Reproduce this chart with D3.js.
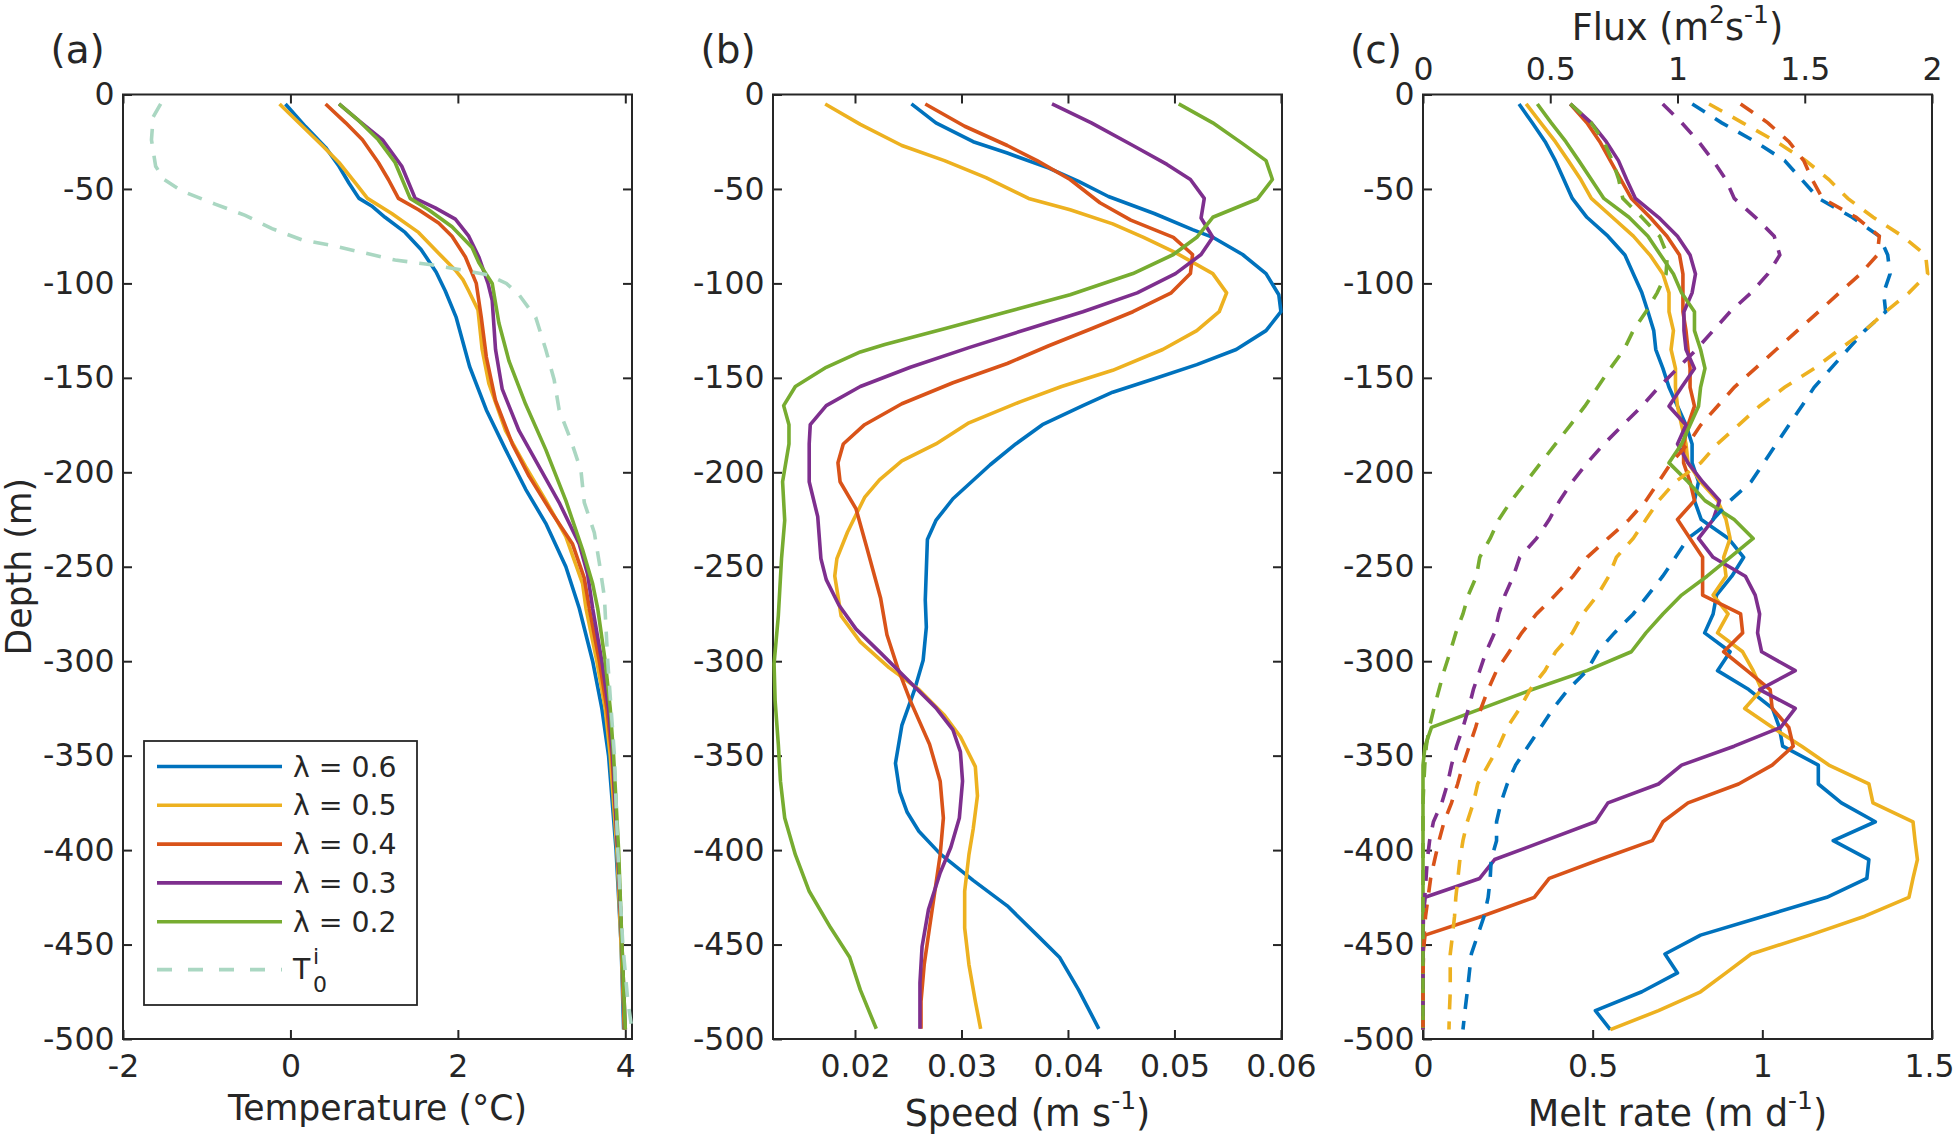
<!DOCTYPE html>
<html>
<head>
<meta charset="utf-8">
<script src="https://cdnjs.cloudflare.com/ajax/libs/d3/7.8.5/d3.min.js"></script>
<style>
  body { margin: 0; background: #fff; }
  text { font-family: "DejaVu Sans", sans-serif; fill: #262626; }
</style>
</head>
<body>
<div id="chart"></div>
<script>
// series labels and colours (MATLAB default order)
const lambdas = ["0.6", "0.5", "0.4", "0.3", "0.2"];
const colors = ["#0072BD", "#EDB120", "#D95319", "#7E2F8E", "#77AC30"];
const initColor = "#aad7c2";

// ticks
const depthTicks = [0, -50, -100, -150, -200, -250, -300, -350, -400, -450, -500];
const tempTicks = [-2, 0, 2, 4];
const speedTicks = [0.02, 0.03, 0.04, 0.05, 0.06];
const meltTicks = [0, 0.5, 1, 1.5];
const fluxTicks = [0, 0.5, 1, 1.5, 2];

// (a) temperature profiles: [depth, T]
const tempBlue = [[-5,-0.06],[-17,0.18],[-28,0.42],[-38,0.58],[-47,0.70],[-55,0.82],[-59,0.97],[-65,1.13],[-73,1.37],[-82,1.56],[-94,1.74],[-104,1.85],[-118,1.98],[-144,2.14],[-167,2.34],[-188,2.57],[-209,2.81],[-227,3.05],[-250,3.29],[-272,3.45],[-300,3.61],[-325,3.72],[-350,3.80],[-400,3.89],[-450,3.95],[-495,3.98]];
const tempYellow = [[-5,-0.13],[-15,0.10],[-27,0.38],[-36,0.58],[-47,0.78],[-55,0.92],[-63,1.21],[-73,1.53],[-84,1.77],[-93,1.97],[-98,2.06],[-104,2.13],[-114,2.24],[-135,2.29],[-153,2.37],[-178,2.57],[-197,2.81],[-215,3.05],[-234,3.29],[-259,3.49],[-272,3.53],[-300,3.66],[-325,3.76],[-350,3.82],[-400,3.90],[-450,3.95],[-495,3.99]];
const tempRed = [[-5,0.42],[-15,0.66],[-24,0.86],[-36,1.05],[-45,1.17],[-55,1.29],[-61,1.53],[-68,1.77],[-75,1.93],[-86,2.09],[-100,2.22],[-118,2.28],[-139,2.34],[-162,2.45],[-185,2.65],[-202,2.85],[-222,3.13],[-238,3.37],[-256,3.51],[-272,3.57],[-300,3.69],[-325,3.78],[-350,3.84],[-400,3.91],[-450,3.96],[-495,3.99]];
const tempPurple = [[-5,0.58],[-14,0.82],[-24,1.10],[-38,1.33],[-55,1.49],[-60,1.73],[-66,1.97],[-75,2.13],[-86,2.25],[-100,2.36],[-109,2.41],[-135,2.45],[-156,2.53],[-178,2.73],[-197,2.97],[-216,3.21],[-238,3.45],[-254,3.55],[-272,3.61],[-300,3.72],[-325,3.80],[-350,3.85],[-400,3.91],[-450,3.96],[-495,4.00]];
const tempGreen = [[-5,0.58],[-14,0.82],[-24,1.05],[-36,1.25],[-55,1.43],[-61,1.65],[-70,1.93],[-81,2.17],[-89,2.25],[-100,2.41],[-121,2.49],[-141,2.61],[-164,2.81],[-188,3.05],[-215,3.29],[-241,3.49],[-259,3.61],[-272,3.67],[-300,3.76],[-325,3.82],[-350,3.86],[-400,3.92],[-450,3.96],[-495,4.00]];
const tempInit = [[-5,-1.55],[-12,-1.64],[-24,-1.66],[-38,-1.61],[-45,-1.51],[-51,-1.30],[-58,-0.90],[-64,-0.54],[-71,-0.22],[-77,0.14],[-80,0.50],[-84,0.90],[-87.6,1.25],[-90,1.66],[-93,2.06],[-95.6,2.37],[-100,2.58],[-106,2.73],[-118,2.93],[-135,3.05],[-151,3.15],[-167,3.21],[-183,3.35],[-199,3.47],[-216,3.51],[-232,3.63],[-248,3.69],[-266,3.75],[-300,3.79],[-350,3.87],[-400,3.91],[-450,3.97],[-480,4.03],[-495,4.08]];

// (b) speed profiles: [depth, speed]
const speedBlue = [[-5,0.0253],[-15,0.0276],[-25,0.0311],[-31,0.0343],[-39,0.0382],[-46,0.0410],[-54,0.0438],[-63,0.0481],[-71.5,0.0517],[-75.6,0.0536],[-84.7,0.0564],[-94.8,0.0586],[-106,0.0598],[-115,0.0600],[-125,0.0586],[-135,0.0558],[-143,0.0521],[-150.5,0.0481],[-157.6,0.0442],[-164.7,0.0414],[-174.8,0.0376],[-185,0.0351],[-196,0.0327],[-214,0.0292],[-225.5,0.0276],[-235.6,0.0268],[-267.6,0.0266],[-282,0.0267],[-299.5,0.0264],[-315,0.0256],[-334,0.0244],[-354,0.0238],[-369,0.0242],[-380,0.0249],[-390,0.0260],[-402,0.0280],[-416,0.0311],[-429.5,0.0343],[-445,0.0371],[-456.7,0.0392],[-474,0.0410],[-494.6,0.0429]];
const speedYellow = [[-5,0.0172],[-15.8,0.0205],[-27,0.0244],[-35,0.0284],[-44,0.0323],[-55,0.0363],[-61,0.0402],[-68.5,0.0442],[-75.6,0.0471],[-83.7,0.0501],[-94.8,0.0536],[-105,0.0549],[-115,0.0542],[-125,0.0521],[-135,0.0489],[-146,0.0442],[-154.6,0.0394],[-162.7,0.0355],[-173.8,0.0307],[-185,0.0276],[-194,0.0244],[-204,0.0223],[-213.3,0.0209],[-231.6,0.0193],[-245.7,0.0183],[-254.9,0.0181],[-276,0.0187],[-289.8,0.0205],[-303.4,0.0232],[-315,0.0260],[-328.6,0.0284],[-340,0.0299],[-355.8,0.0313],[-371.3,0.0315],[-388.8,0.0311],[-402.4,0.0307],[-421.8,0.0303],[-441.2,0.0303],[-460.6,0.0307],[-480,0.0313],[-494.6,0.0318]];
const speedRed = [[-5,0.0266],[-16.8,0.0303],[-27,0.0343],[-35,0.0371],[-45,0.0402],[-57.3,0.0430],[-66.5,0.0459],[-71.5,0.0481],[-75.6,0.0499],[-84.7,0.0517],[-94.8,0.0515],[-105,0.0497],[-115,0.0461],[-124,0.0422],[-133,0.0382],[-142.4,0.0343],[-152.6,0.0292],[-163.7,0.0244],[-174.8,0.0209],[-185,0.0189],[-195,0.0184],[-205,0.0186],[-219.4,0.0201],[-239.7,0.0211],[-266.5,0.0224],[-286,0.0230],[-303.4,0.0240],[-321,0.0252],[-344,0.0270],[-363.5,0.0280],[-383,0.0283],[-402.4,0.0280],[-418,0.0276],[-441,0.0270],[-460.6,0.0265],[-480,0.0262],[-494.6,0.0262]];
const speedPurple = [[-5,0.0385],[-15,0.0422],[-27,0.0461],[-37,0.0493],[-45,0.0515],[-55,0.0528],[-65.4,0.0525],[-75.6,0.0536],[-84.7,0.0525],[-94.8,0.0501],[-105,0.0465],[-115,0.0414],[-124,0.0363],[-134,0.0307],[-144.4,0.0252],[-154.6,0.0205],[-164.7,0.0173],[-174.8,0.0158],[-185,0.0157],[-205,0.0157],[-223.5,0.0165],[-245.7,0.0168],[-256.8,0.0173],[-270.4,0.0185],[-283,0.0201],[-295.6,0.0224],[-309,0.0248],[-324.7,0.0276],[-336.4,0.0292],[-348,0.0299],[-363.5,0.0301],[-383,0.0298],[-398.5,0.0290],[-412,0.0280],[-431.5,0.0269],[-451,0.0263],[-470.3,0.0261],[-494.6,0.0261]];
const speedGreen = [[-5,0.0504],[-15,0.0536],[-26,0.0564],[-35,0.0586],[-45,0.0592],[-55.3,0.0578],[-65,0.0536],[-75.6,0.0521],[-84.7,0.0499],[-94.8,0.0461],[-106,0.0402],[-115,0.0343],[-124,0.0284],[-132.3,0.0228],[-136.3,0.0205],[-144.4,0.0173],[-154.6,0.0144],[-164.7,0.0133],[-174.8,0.0138],[-185,0.0138],[-205,0.0132],[-225.5,0.0134],[-245.7,0.0131],[-276,0.0128],[-301.4,0.0124],[-321,0.0125],[-344,0.0128],[-363.5,0.0130],[-383,0.0134],[-402.4,0.0144],[-421.8,0.0157],[-441,0.0177],[-456.7,0.0195],[-474,0.0205],[-494.6,0.0220]];

// (c) melt rate and flux on a 10 m grid
const meltDepth = [-5,-15,-25,-35,-45,-55,-65,-75,-85,-95,-105,-115,-125,-135,-145,-155,-165,-175,-185,-195,-205,-215,-225,-235,-245,-255,-265,-275,-285,-295,-305,-315,-325,-335,-345,-355,-365,-375,-385,-395,-405,-415,-425,-435,-445,-455,-465,-475,-485,-495];
const meltBlue = [0.283,0.322,0.36,0.39,0.415,0.44,0.483,0.545,0.595,0.62,
  0.645,0.663,0.68,0.686,0.707,0.725,0.75,0.775,0.793,0.793,
  0.812,0.80,0.82,0.90,0.945,0.91,0.865,0.855,0.83,0.905,
  0.868,0.96,1.03,1.05,1.06,1.165,1.165,1.233,1.333,1.209,
  1.314,1.308,1.19,1.004,0.818,0.713,0.75,0.645,0.508,0.552];
const meltYellow = [0.304,0.347,0.39,0.428,0.465,0.496,0.558,0.62,0.669,0.707,
  0.725,0.725,0.738,0.731,0.744,0.744,0.75,0.762,0.775,0.781,
  0.818,0.868,0.893,0.905,0.886,0.893,0.855,0.899,0.868,0.942,
  0.973,0.998,0.948,1.029,1.116,1.196,1.314,1.326,1.444,1.45,
  1.457,1.444,1.432,1.302,1.14,0.967,0.893,0.818,0.694,0.552];
const meltRed = [0.434,0.483,0.521,0.552,0.583,0.614,0.669,0.719,0.756,0.766,
  0.766,0.766,0.775,0.781,0.787,0.787,0.80,0.781,0.768,0.768,
  0.787,0.80,0.75,0.787,0.824,0.824,0.824,0.936,0.942,0.886,
  0.955,1.023,1.029,1.078,1.091,1.029,0.93,0.781,0.707,0.676,
  0.521,0.372,0.328,0.174,0.006,0,0,0,0,0];
const meltPurple = [0.434,0.496,0.54,0.576,0.60,0.626,0.694,0.75,0.787,0.803,
  0.793,0.769,0.769,0.775,0.80,0.762,0.725,0.775,0.75,0.781,
  0.824,0.874,0.855,0.812,0.855,0.95,0.979,0.992,0.986,0.998,
  1.097,0.992,1.097,1.054,0.917,0.762,0.694,0.545,0.508,0.36,
  0.211,0.167,0.006,0,0,0,0,0,0,0];
const meltGreen = [0.337,0.378,0.421,0.459,0.496,0.533,0.607,0.663,0.70,0.738,
  0.762,0.80,0.80,0.818,0.831,0.818,0.812,0.787,0.762,0.725,
  0.781,0.831,0.917,0.973,0.905,0.837,0.762,0.707,0.657,0.614,
  0.483,0.322,0.174,0.025,0.006,0,0,0,0,0,
  0,0,0,0,0,0,0,0,0,0];
const fluxBlue = [1.058,1.174,1.306,1.421,1.488,1.554,1.686,1.793,1.826,1.835,
  1.81,1.818,1.736,1.669,1.603,1.537,1.488,1.438,1.388,1.339,
  1.289,1.207,1.14,1.041,0.992,0.942,0.884,0.826,0.752,0.686,
  0.645,0.57,0.512,0.463,0.413,0.364,0.331,0.306,0.289,0.289,
  0.268,0.264,0.256,0.24,0.215,0.19,0.182,0.174,0.165,0.157];
const fluxYellow = [1.124,1.256,1.388,1.504,1.595,1.669,1.769,1.884,1.975,1.983,
  1.909,1.818,1.736,1.636,1.537,1.421,1.322,1.24,1.157,1.091,
  0.992,0.926,0.876,0.826,0.76,0.73,0.686,0.628,0.587,0.521,
  0.479,0.421,0.38,0.331,0.298,0.256,0.215,0.198,0.174,0.157,
  0.145,0.137,0.129,0.124,0.116,0.107,0.107,0.107,0.104,0.102];
const fluxRed = [1.248,1.355,1.438,1.496,1.529,1.57,1.702,1.793,1.785,1.719,
  1.636,1.554,1.471,1.388,1.306,1.223,1.157,1.091,1.041,0.975,
  0.926,0.876,0.81,0.727,0.645,0.59,0.52,0.446,0.388,0.339,
  0.289,0.256,0.228,0.207,0.182,0.157,0.136,0.112,0.083,0.063,
  0.046,0.03,0.02,0.01,0.005,0.002,0,0,0,0];
const fluxPurple = [0.942,1.017,1.083,1.14,1.19,1.223,1.306,1.38,1.402,1.355,
  1.289,1.207,1.14,1.074,1.0,0.926,0.86,0.785,0.711,0.645,
  0.587,0.537,0.496,0.446,0.38,0.355,0.322,0.298,0.281,0.248,
  0.223,0.198,0.179,0.157,0.132,0.112,0.096,0.074,0.041,0.026,
  0.017,0.012,0.007,0.002,0,0,0,0,0,0];
const fluxGreen = [0.579,0.661,0.711,0.744,0.769,0.785,0.86,0.93,0.96,0.955,
  0.92,0.876,0.826,0.79,0.736,0.686,0.636,0.579,0.521,0.463,
  0.405,0.347,0.298,0.264,0.223,0.21,0.178,0.157,0.129,0.107,
  0.083,0.063,0.043,0.025,0.013,0.007,0.003,0,0,0,
  0,0,0,0,0,0,0,0,0,0];

const tempSeries = [tempBlue, tempYellow, tempRed, tempPurple, tempGreen];
const speedSeries = [speedBlue, speedYellow, speedRed, speedPurple, speedGreen];
const meltSeries = [meltBlue, meltYellow, meltRed, meltPurple, meltGreen];
const fluxSeries = [fluxBlue, fluxYellow, fluxRed, fluxPurple, fluxGreen];

// layout
const W = 1956, H = 1136;
const plotTop = 94.5, plotBottom = 1039, pw = 509;
const panelLeft = [123, 773, 1423];
const tickFont = 31.5, labelFont = 34.65, legendFont = 28.35;
const axisColor = "#262626";
const lw = 3.6;

const svg = d3.select("#chart").append("svg")
    .attr("width", W)
    .attr("height", H)
    .style("background", "#fff");

const y = d3.scaleLinear().domain([-500, 0]).range([plotBottom, plotTop]);

function styleAxis(sel) {
    sel.attr("font-size", tickFont)
       .attr("font-family", "DejaVu Sans")
       .attr("color", axisColor);
    sel.select(".domain").remove();
    sel.selectAll(".tick line").attr("stroke-width", 2);
    sel.selectAll(".tick text").attr("fill", axisColor);
}

function drawPanel(x0, x, xTicks, mirror) {
    const g = svg.append("g");
    // left depth axis
    g.append("g")
        .attr("transform", `translate(${x0},0)`)
        .call(d3.axisLeft(y).tickValues(depthTicks).tickSizeInner(-9).tickSizeOuter(0).tickPadding(8.5).tickFormat(d => String(d)))
        .call(styleAxis);
    if (mirror) {
        g.append("g")
            .attr("transform", `translate(${x0 + pw},0)`)
            .call(d3.axisRight(y).tickValues(depthTicks.slice(1, -1)).tickSizeInner(-9).tickSizeOuter(0).tickFormat(""))
            .call(styleAxis);
        g.append("g")
            .attr("transform", `translate(0,${plotTop})`)
            .call(d3.axisTop(x).tickValues(xTicks).tickSizeInner(-9).tickSizeOuter(0).tickFormat(""))
            .call(styleAxis);
    }
    const xb = g.append("g")
        .attr("transform", `translate(0,${plotBottom})`)
        .call(d3.axisBottom(x).tickValues(xTicks).tickSizeInner(-9).tickSizeOuter(0).tickPadding(15.5).tickFormat(d => String(d)))
        .call(styleAxis);
    g.append("rect")
        .attr("x", x0).attr("y", plotTop)
        .attr("width", pw).attr("height", plotBottom - plotTop)
        .attr("fill", "none")
        .attr("stroke", axisColor)
        .attr("stroke-width", 2);
    return { g, xb };
}

const pairLine = x => d3.line().x(d => x(d[1])).y(d => y(d[0]));

// ---- (a) temperature
const xTemp = d3.scaleLinear().domain([-2, 4.08]).range([panelLeft[0], panelLeft[0] + pw]);
const gA = drawPanel(panelLeft[0], xTemp, tempTicks, true).g;
tempSeries.forEach((s, i) => {
    gA.append("path").datum(s)
        .attr("d", pairLine(xTemp))
        .attr("fill", "none").attr("stroke", colors[i])
        .attr("stroke-width", lw).attr("stroke-linejoin", "round");
});
gA.append("path").datum(tempInit)
    .attr("d", pairLine(xTemp))
    .attr("fill", "none").attr("stroke", initColor)
    .attr("stroke-width", lw).attr("stroke-dasharray", "15,12");

// ---- (b) speed
const xSpeed = d3.scaleLinear().domain([0.0123, 0.0601]).range([panelLeft[1], panelLeft[1] + pw]);
const gB = drawPanel(panelLeft[1], xSpeed, speedTicks, true).g;
speedSeries.forEach((s, i) => {
    gB.append("path").datum(s)
        .attr("d", pairLine(xSpeed))
        .attr("fill", "none").attr("stroke", colors[i])
        .attr("stroke-width", lw).attr("stroke-linejoin", "round");
});

// ---- (c) melt rate (bottom) and flux (top)
const xMelt = d3.scaleLinear().domain([0, 1.5]).range([panelLeft[2], panelLeft[2] + pw]);
const xFlux = d3.scaleLinear().domain([0, 2]).range([panelLeft[2], panelLeft[2] + pw]);
const pc = drawPanel(panelLeft[2], xMelt, meltTicks, false);
const gC = pc.g;
// keep the last bottom label inside the picture edge
pc.xb.selectAll(".tick text").filter(d => d === 1.5).attr("dx", -3);
gC.append("g")
    .attr("transform", `translate(0,${plotTop})`)
    .call(d3.axisTop(xFlux).tickValues(fluxTicks).tickSizeInner(-9).tickSizeOuter(0).tickPadding(15).tickFormat(d => String(d)))
    .call(styleAxis);

const gridLine = x => d3.line().x(d => x(d)).y((d, i) => y(meltDepth[i]));
meltSeries.forEach((s, i) => {
    gC.append("path").datum(s)
        .attr("d", gridLine(xMelt))
        .attr("fill", "none").attr("stroke", colors[i])
        .attr("stroke-width", lw).attr("stroke-linejoin", "round");
});
fluxSeries.forEach((s, i) => {
    gC.append("path").datum(s)
        .attr("d", gridLine(xFlux))
        .attr("fill", "none").attr("stroke", colors[i])
        .attr("stroke-width", lw).attr("stroke-dasharray", "15,12");
});

// ---- labels
const panelNames = ["(a)", "(b)", "(c)"];
const panelX = [50.5, 700.5, 1350];
panelNames.forEach((t, i) => {
    svg.append("text").attr("x", panelX[i]).attr("y", 63)
        .attr("font-size", 39).text(t);
});

svg.append("text")
    .attr("transform", `translate(31,${(plotTop + plotBottom) / 2}) rotate(-90)`)
    .attr("text-anchor", "middle").attr("font-size", labelFont)
    .text("Depth (m)");

svg.append("text")
    .attr("x", panelLeft[0] + pw / 2).attr("y", 1120)
    .attr("text-anchor", "middle").attr("font-size", labelFont)
    .text("Temperature (°C)");

// label made of plain and superscript pieces; each piece sets its own baseline shift
function supLabel(x, yb, parts) {
    const t = svg.append("text").attr("x", x).attr("y", yb)
        .attr("text-anchor", "middle").attr("font-size", 36.5);
    let raised = false;
    parts.forEach(p => {
        const sp = t.append("tspan");
        if (p.sup) {
            sp.attr("dy", raised ? 0 : -17).attr("font-size", 25).text(p.sup);
            raised = true;
        } else {
            sp.attr("dy", raised ? 17 : 0).text(p.text);
            raised = false;
        }
    });
}
supLabel(panelLeft[1] + pw / 2, 1126, [{ text: "Speed (m s" }, { sup: "-1" }, { text: ")" }]);
supLabel(panelLeft[2] + pw / 2, 1126, [{ text: "Melt rate (m d" }, { sup: "-1" }, { text: ")" }]);
supLabel(panelLeft[2] + pw / 2, 40, [{ text: "Flux (m" }, { sup: "2" }, { text: "s" }, { sup: "-1" }, { text: ")" }]);

// ---- legend
const lg = svg.append("g");
lg.append("rect")
    .attr("x", 144).attr("y", 741).attr("width", 273).attr("height", 264)
    .attr("fill", "#fff").attr("stroke", axisColor).attr("stroke-width", 1.8);
lambdas.forEach((l, i) => {
    const ry = 766.5 + i * 38.8;
    lg.append("line").attr("x1", 157).attr("x2", 282).attr("y1", ry).attr("y2", ry)
        .attr("stroke", colors[i]).attr("stroke-width", lw);
    lg.append("text").attr("x", 293).attr("y", ry + 10)
        .attr("font-size", legendFont).text(`λ = ${l}`);
});
const ty = 969.6;
lg.append("line").attr("x1", 157).attr("x2", 282).attr("y1", ty).attr("y2", ty)
    .attr("stroke", initColor).attr("stroke-width", lw).attr("stroke-dasharray", "15,16");
lg.append("text").attr("x", 293).attr("y", ty + 9.5).attr("font-size", legendFont).text("T");
lg.append("text").attr("x", 313).attr("y", ty - 5.5).attr("font-size", 22).text("i");
lg.append("text").attr("x", 313).attr("y", ty + 22).attr("font-size", 22).text("0");
</script>
</body>
</html>
